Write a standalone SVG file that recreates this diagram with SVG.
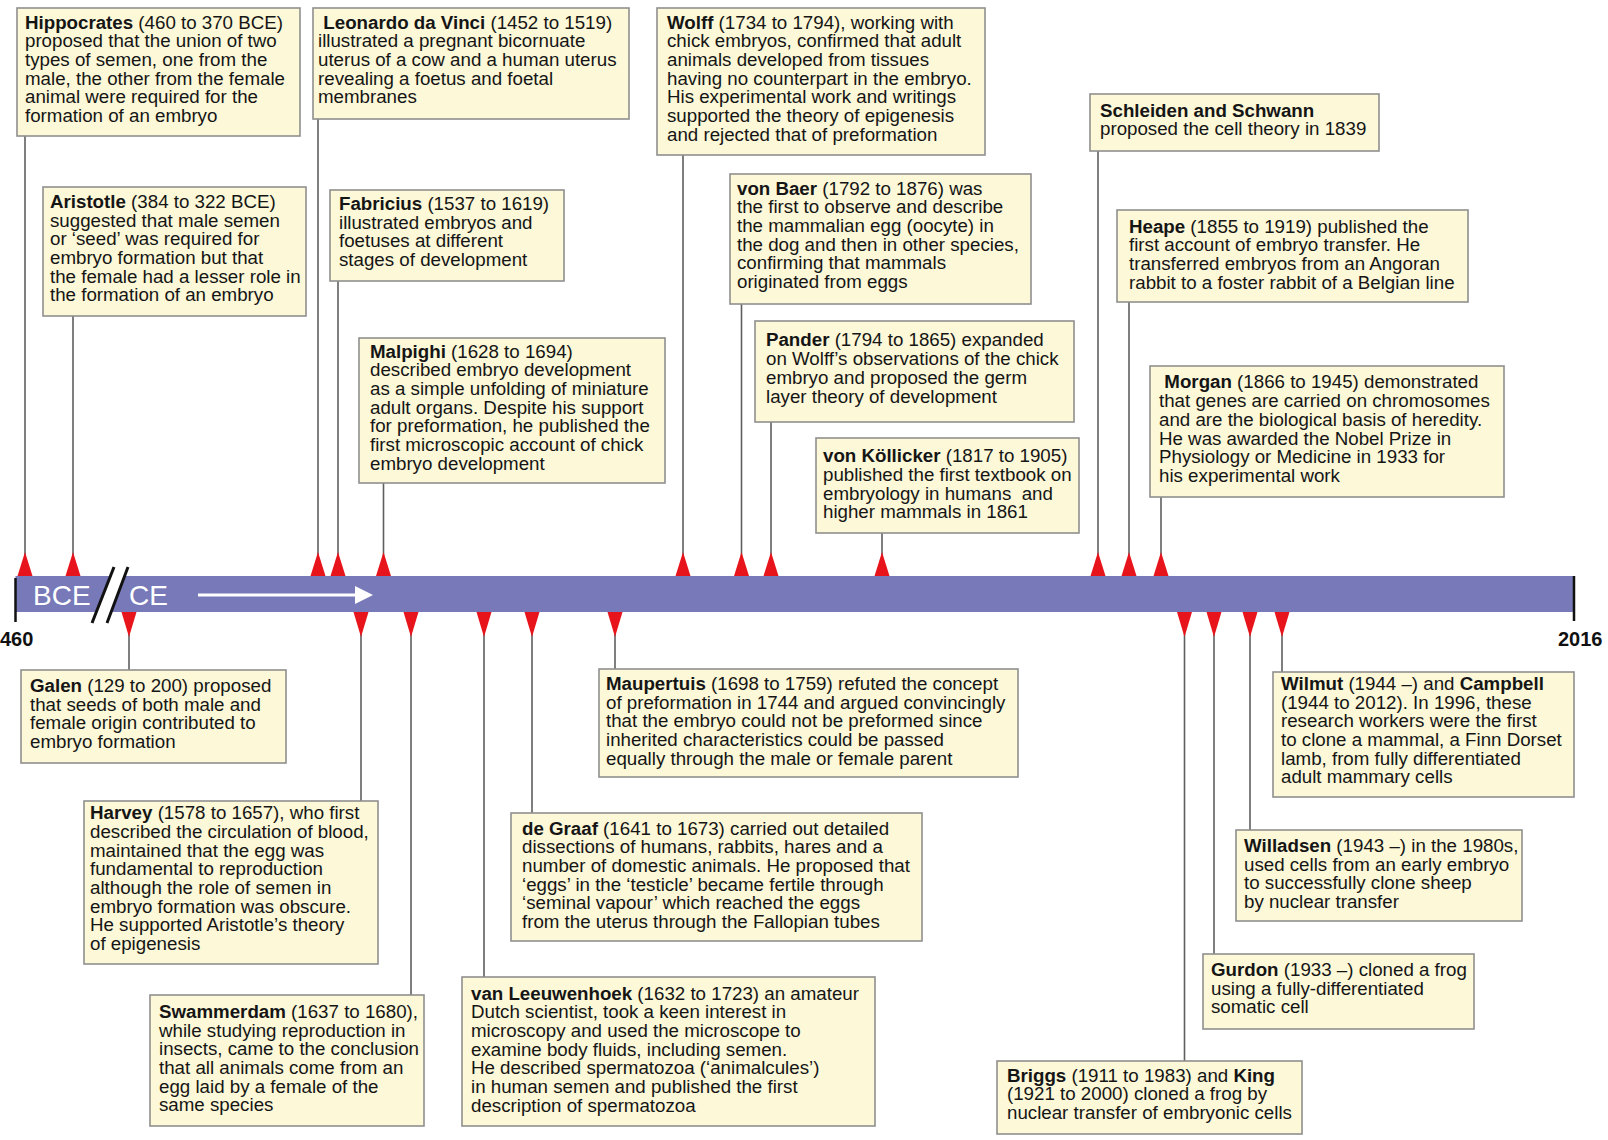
<svg xmlns="http://www.w3.org/2000/svg" width="1608" height="1140" viewBox="0 0 1608 1140">
<style>
.box{fill:#fcf8d8;stroke:#8f8f8f;stroke-width:1.6}
.t{font-family:"Liberation Sans",Arial,sans-serif;font-size:17.5px;fill:#151515}
.b{font-weight:bold}
.con{stroke:#5f5f5f;stroke-width:1.6;fill:none}
.tri{fill:#e8141c}
.yr{font-family:"Liberation Sans",Arial,sans-serif;font-size:20px;font-weight:bold;fill:#111}
.era{font-family:"Liberation Sans",Arial,sans-serif;font-size:28px;fill:#fff}
</style>
<defs>
<path id="up" class="tri" d="M-7.5,0 L0,-24 L7.5,0 Z"/>
<path id="dn" class="tri" d="M-7.5,0 L0,25 L7.5,0 Z"/>
<marker id="wa" markerWidth="6" markerHeight="6" refX="1" refY="3" orient="auto" markerUnits="strokeWidth"><path d="M0,0 L6,3 L0,6 Z" fill="#fff"/></marker>
</defs>
<rect width="1608" height="1140" fill="#fff"/>

<g id="connectors">
<line class="con" x1="25" y1="136" x2="25" y2="576"/>
<line class="con" x1="73" y1="316" x2="73" y2="576"/>
<line class="con" x1="318" y1="119" x2="318" y2="576"/>
<line class="con" x1="338" y1="281" x2="338" y2="576"/>
<line class="con" x1="383.5" y1="483" x2="383.5" y2="576"/>
<line class="con" x1="683" y1="155" x2="683" y2="576"/>
<line class="con" x1="741.5" y1="304" x2="741.5" y2="576"/>
<line class="con" x1="771" y1="422" x2="771" y2="576"/>
<line class="con" x1="882" y1="533" x2="882" y2="576"/>
<line class="con" x1="1098" y1="151" x2="1098" y2="576"/>
<line class="con" x1="1129" y1="302" x2="1129" y2="576"/>
<line class="con" x1="1161" y1="497" x2="1161" y2="576"/>
<line class="con" x1="129" y1="612" x2="129" y2="670"/>
<line class="con" x1="361" y1="612" x2="361" y2="801"/>
<line class="con" x1="411" y1="612" x2="411" y2="995"/>
<line class="con" x1="484" y1="612" x2="484" y2="977"/>
<line class="con" x1="532" y1="612" x2="532" y2="813"/>
<line class="con" x1="615" y1="612" x2="615" y2="669"/>
<line class="con" x1="1184.5" y1="612" x2="1184.5" y2="1061"/>
<line class="con" x1="1214" y1="612" x2="1214" y2="954"/>
<line class="con" x1="1250" y1="612" x2="1250" y2="830"/>
<line class="con" x1="1282" y1="612" x2="1282" y2="672"/>
</g>

<g id="timeline">
<rect x="15.5" y="576" width="1558.5" height="36" fill="#7879b9"/>
<line x1="15.5" y1="578" x2="15.5" y2="622" stroke="#111" stroke-width="2.5"/>
<line x1="1574" y1="576" x2="1574" y2="621" stroke="#111" stroke-width="2.5"/>
<text class="yr" x="0" y="646">460</text>
<text class="yr" x="1558" y="646">2016</text>
<text class="era" x="33" y="605">BCE</text>
<polygon points="114,567 128,567 107,623 92,623" fill="#fff"/>
<line x1="114" y1="567" x2="92" y2="623" stroke="#111" stroke-width="3"/>
<line x1="128" y1="567" x2="107" y2="623" stroke="#111" stroke-width="3"/>
<text class="era" x="129" y="605">CE</text>
<line x1="198" y1="595" x2="358" y2="595" stroke="#fff" stroke-width="3" marker-end="url(#wa)"/>
<use href="#up" x="25" y="576"/>
<use href="#up" x="73" y="576"/>
<use href="#up" x="318" y="576"/>
<use href="#up" x="338" y="576"/>
<use href="#up" x="383.5" y="576"/>
<use href="#up" x="683" y="576"/>
<use href="#up" x="741.5" y="576"/>
<use href="#up" x="771" y="576"/>
<use href="#up" x="882" y="576"/>
<use href="#up" x="1098" y="576"/>
<use href="#up" x="1129" y="576"/>
<use href="#up" x="1161" y="576"/>
<use href="#dn" x="129" y="612"/>
<use href="#dn" x="361" y="612"/>
<use href="#dn" x="411" y="612"/>
<use href="#dn" x="484" y="612"/>
<use href="#dn" x="532" y="612"/>
<use href="#dn" x="615" y="612"/>
<use href="#dn" x="1184.5" y="612"/>
<use href="#dn" x="1214" y="612"/>
<use href="#dn" x="1250" y="612"/>
<use href="#dn" x="1282" y="612"/>
</g>

<g id="hippocrates">
<rect class="box" x="17" y="8" width="283" height="128"/>
<text class="t" x="25" y="28.6" transform="translate(25 0) scale(1.07 1) translate(-25 0)"><tspan class="b">Hippocrates</tspan> (460 to 370 BCE)<tspan x="25" dy="18.7">proposed that the union of two</tspan><tspan x="25" dy="18.7">types of semen, one from the</tspan><tspan x="25" dy="18.7">male, the other from the female</tspan><tspan x="25" dy="18.7">animal were required for the</tspan><tspan x="25" dy="18.7">formation of an embryo</tspan></text>
</g>

<g id="aristotle">
<rect class="box" x="43" y="187" width="263" height="129"/>
<text class="t" x="50" y="208" transform="translate(50 0) scale(1.07 1) translate(-50 0)"><tspan class="b">Aristotle</tspan> (384 to 322 BCE)<tspan x="50" dy="18.7">suggested that male semen</tspan><tspan x="50" dy="18.7">or ‘seed’ was required for</tspan><tspan x="50" dy="18.7">embryo formation but that</tspan><tspan x="50" dy="18.7">the female had a lesser role in</tspan><tspan x="50" dy="18.7">the formation of an embryo</tspan></text>
</g>

<g id="leonardo">
<rect class="box" x="313" y="8" width="316" height="111"/>
<text class="t" x="318" y="28.6" transform="translate(318 0) scale(1.07 1) translate(-318 0)"><tspan x="323" class="b">Leonardo da Vinci</tspan> (1452 to 1519)<tspan x="318" dy="18.7">illustrated a pregnant bicornuate</tspan><tspan x="318" dy="18.7">uterus of a cow and a human uterus</tspan><tspan x="318" dy="18.7">revealing a foetus and foetal</tspan><tspan x="318" dy="18.7">membranes</tspan></text>
</g>

<g id="fabricius">
<rect class="box" x="330" y="190" width="234" height="91"/>
<text class="t" x="339" y="210" transform="translate(339 0) scale(1.07 1) translate(-339 0)"><tspan class="b">Fabricius</tspan> (1537 to 1619)<tspan x="339" dy="18.7">illustrated embryos and</tspan><tspan x="339" dy="18.7">foetuses at different</tspan><tspan x="339" dy="18.7">stages of development</tspan></text>
</g>

<g id="malpighi">
<rect class="box" x="359" y="338" width="306" height="145"/>
<text class="t" x="370" y="357.7" transform="translate(370 0) scale(1.07 1) translate(-370 0)"><tspan class="b">Malpighi</tspan> (1628 to 1694)<tspan x="370" dy="18.7">described embryo development</tspan><tspan x="370" dy="18.7">as a simple unfolding of miniature</tspan><tspan x="370" dy="18.7">adult organs. Despite his support</tspan><tspan x="370" dy="18.7">for preformation, he published the</tspan><tspan x="370" dy="18.7">first microscopic account of chick</tspan><tspan x="370" dy="18.7">embryo development</tspan></text>
</g>

<g id="wolff">
<rect class="box" x="657" y="8" width="328" height="147"/>
<text class="t" x="667" y="28.6" transform="translate(667 0) scale(1.07 1) translate(-667 0)"><tspan class="b">Wolff</tspan> (1734 to 1794), working with<tspan x="667" dy="18.7">chick embryos, confirmed that adult</tspan><tspan x="667" dy="18.7">animals developed from tissues</tspan><tspan x="667" dy="18.7">having no counterpart in the embryo.</tspan><tspan x="667" dy="18.7">His experimental work and writings</tspan><tspan x="667" dy="18.7">supported the theory of epigenesis</tspan><tspan x="667" dy="18.7">and rejected that of preformation</tspan></text>
</g>

<g id="vonbaer">
<rect class="box" x="730" y="174" width="301" height="130"/>
<text class="t" x="737" y="194.7" transform="translate(737 0) scale(1.07 1) translate(-737 0)"><tspan class="b">von Baer</tspan> (1792 to 1876) was<tspan x="737" dy="18.7">the first to observe and describe</tspan><tspan x="737" dy="18.7">the mammalian egg (oocyte) in</tspan><tspan x="737" dy="18.7">the dog and then in other species,</tspan><tspan x="737" dy="18.7">confirming that mammals</tspan><tspan x="737" dy="18.7">originated from eggs</tspan></text>
</g>

<g id="pander">
<rect class="box" x="755" y="321" width="319" height="101"/>
<text class="t" x="766" y="346.5" transform="translate(766 0) scale(1.07 1) translate(-766 0)"><tspan class="b">Pander</tspan> (1794 to 1865) expanded<tspan x="766" dy="18.7">on Wolff’s observations of the chick</tspan><tspan x="766" dy="18.7">embryo and proposed the germ</tspan><tspan x="766" dy="18.7">layer theory of development</tspan></text>
</g>

<g id="kollicker">
<rect class="box" x="816" y="438" width="263" height="95"/>
<text class="t" x="823" y="462.3" style="white-space:pre" transform="translate(823 0) scale(1.07 1) translate(-823 0)"><tspan class="b">von Köllicker</tspan> (1817 to 1905)<tspan x="823" dy="18.7">published the first textbook on</tspan><tspan x="823" dy="18.7">embryology in humans  and</tspan><tspan x="823" dy="18.7">higher mammals in 1861</tspan></text>
</g>

<g id="schleiden">
<rect class="box" x="1090" y="94" width="289" height="57"/>
<text class="t" x="1100" y="116.8" transform="translate(1100 0) scale(1.07 1) translate(-1100 0)"><tspan class="b">Schleiden and Schwann</tspan><tspan x="1100" dy="18.7">proposed the cell theory in 1839</tspan></text>
</g>

<g id="heape">
<rect class="box" x="1117" y="210" width="351" height="92"/>
<text class="t" x="1129" y="232.6" transform="translate(1129 0) scale(1.07 1) translate(-1129 0)"><tspan class="b">Heape</tspan> (1855 to 1919) published the<tspan x="1129" dy="18.7">first account of embryo transfer. He</tspan><tspan x="1129" dy="18.7">transferred embryos from an Angoran</tspan><tspan x="1129" dy="18.7">rabbit to a foster rabbit of a Belgian line</tspan></text>
</g>

<g id="morgan">
<rect class="box" x="1150" y="366" width="354" height="131"/>
<text class="t" x="1159" y="388.5" transform="translate(1159 0) scale(1.07 1) translate(-1159 0)"><tspan x="1164" class="b">Morgan</tspan> (1866 to 1945) demonstrated<tspan x="1159" dy="18.7">that genes are carried on chromosomes</tspan><tspan x="1159" dy="18.7">and are the biological basis of heredity.</tspan><tspan x="1159" dy="18.7">He was awarded the Nobel Prize in</tspan><tspan x="1159" dy="18.7">Physiology or Medicine in 1933 for</tspan><tspan x="1159" dy="18.7">his experimental work</tspan></text>
</g>

<g id="galen">
<rect class="box" x="21" y="670" width="265" height="93"/>
<text class="t" x="30" y="692" transform="translate(30 0) scale(1.07 1) translate(-30 0)"><tspan class="b">Galen</tspan> (129 to 200) proposed<tspan x="30" dy="18.7">that seeds of both male and</tspan><tspan x="30" dy="18.7">female origin contributed to</tspan><tspan x="30" dy="18.7">embryo formation</tspan></text>
</g>

<g id="harvey">
<rect class="box" x="84" y="801" width="294" height="163"/>
<text class="t" x="90" y="819.2" transform="translate(90 0) scale(1.07 1) translate(-90 0)"><tspan class="b">Harvey</tspan> (1578 to 1657), who first<tspan x="90" dy="18.7">described the circulation of blood,</tspan><tspan x="90" dy="18.7">maintained that the egg was</tspan><tspan x="90" dy="18.7">fundamental to reproduction</tspan><tspan x="90" dy="18.7">although the role of semen in</tspan><tspan x="90" dy="18.7">embryo formation was obscure.</tspan><tspan x="90" dy="18.7">He supported Aristotle’s theory</tspan><tspan x="90" dy="18.7">of epigenesis</tspan></text>
</g>

<g id="swammerdam">
<rect class="box" x="150" y="995" width="274" height="131"/>
<text class="t" x="159" y="1018" transform="translate(159 0) scale(1.07 1) translate(-159 0)"><tspan class="b">Swammerdam</tspan> (1637 to 1680),<tspan x="159" dy="18.7">while studying reproduction in</tspan><tspan x="159" dy="18.7">insects, came to the conclusion</tspan><tspan x="159" dy="18.7">that all animals come from an</tspan><tspan x="159" dy="18.7">egg laid by a female of the</tspan><tspan x="159" dy="18.7">same species</tspan></text>
</g>

<g id="leeuwenhoek">
<rect class="box" x="462" y="977" width="413" height="149"/>
<text class="t" x="471" y="999.7" transform="translate(471 0) scale(1.07 1) translate(-471 0)"><tspan class="b">van Leeuwenhoek</tspan> (1632 to 1723) an amateur<tspan x="471" dy="18.7">Dutch scientist, took a keen interest in</tspan><tspan x="471" dy="18.7">microscopy and used the microscope to</tspan><tspan x="471" dy="18.7">examine body fluids, including semen.</tspan><tspan x="471" dy="18.7">He described spermatozoa (‘animalcules’)</tspan><tspan x="471" dy="18.7">in human semen and published the first</tspan><tspan x="471" dy="18.7">description of spermatozoa</tspan></text>
</g>

<g id="degraaf">
<rect class="box" x="511" y="813" width="411" height="128"/>
<text class="t" x="522" y="834.6" transform="translate(522 0) scale(1.07 1) translate(-522 0)"><tspan class="b">de Graaf</tspan> (1641 to 1673) carried out detailed<tspan x="522" dy="18.7">dissections of humans, rabbits, hares and a</tspan><tspan x="522" dy="18.7">number of domestic animals. He proposed that</tspan><tspan x="522" dy="18.7">‘eggs’ in the ‘testicle’ became fertile through</tspan><tspan x="522" dy="18.7">‘seminal vapour’ which reached the eggs</tspan><tspan x="522" dy="18.7">from the uterus through the Fallopian tubes</tspan></text>
</g>

<g id="maupertuis">
<rect class="box" x="599" y="669" width="419" height="108"/>
<text class="t" x="606" y="690" transform="translate(606 0) scale(1.07 1) translate(-606 0)"><tspan class="b">Maupertuis</tspan> (1698 to 1759) refuted the concept<tspan x="606" dy="18.7">of preformation in 1744 and argued convincingly</tspan><tspan x="606" dy="18.7">that the embryo could not be preformed since</tspan><tspan x="606" dy="18.7">inherited characteristics could be passed</tspan><tspan x="606" dy="18.7">equally through the male or female parent</tspan></text>
</g>

<g id="briggs">
<rect class="box" x="997" y="1061" width="305" height="73"/>
<text class="t" x="1007" y="1081.7" transform="translate(1007 0) scale(1.07 1) translate(-1007 0)"><tspan class="b">Briggs</tspan> (1911 to 1983) and <tspan class="b">King</tspan><tspan x="1007" dy="18.7">(1921 to 2000) cloned a frog by</tspan><tspan x="1007" dy="18.7">nuclear transfer of embryonic cells</tspan></text>
</g>

<g id="gurdon">
<rect class="box" x="1203" y="954" width="271" height="75"/>
<text class="t" x="1211" y="976" transform="translate(1211 0) scale(1.07 1) translate(-1211 0)"><tspan class="b">Gurdon</tspan> (1933 –) cloned a frog<tspan x="1211" dy="18.7">using a fully-differentiated</tspan><tspan x="1211" dy="18.7">somatic cell</tspan></text>
</g>

<g id="willadsen">
<rect class="box" x="1236" y="830" width="286" height="91"/>
<text class="t" x="1244" y="852" transform="translate(1244 0) scale(1.07 1) translate(-1244 0)"><tspan class="b">Willadsen</tspan> (1943 –) in the 1980s,<tspan x="1244" dy="18.7">used cells from an early embryo</tspan><tspan x="1244" dy="18.7">to successfully clone sheep</tspan><tspan x="1244" dy="18.7">by nuclear transfer</tspan></text>
</g>

<g id="wilmut">
<rect class="box" x="1273" y="672" width="301" height="125"/>
<text class="t" x="1281" y="690" transform="translate(1281 0) scale(1.07 1) translate(-1281 0)"><tspan class="b">Wilmut</tspan> (1944 –) and <tspan class="b">Campbell</tspan><tspan x="1281" dy="18.7">(1944 to 2012). In 1996, these</tspan><tspan x="1281" dy="18.7">research workers were the first</tspan><tspan x="1281" dy="18.7">to clone a mammal, a Finn Dorset</tspan><tspan x="1281" dy="18.7">lamb, from fully differentiated</tspan><tspan x="1281" dy="18.7">adult mammary cells</tspan></text>
</g>
</svg>
